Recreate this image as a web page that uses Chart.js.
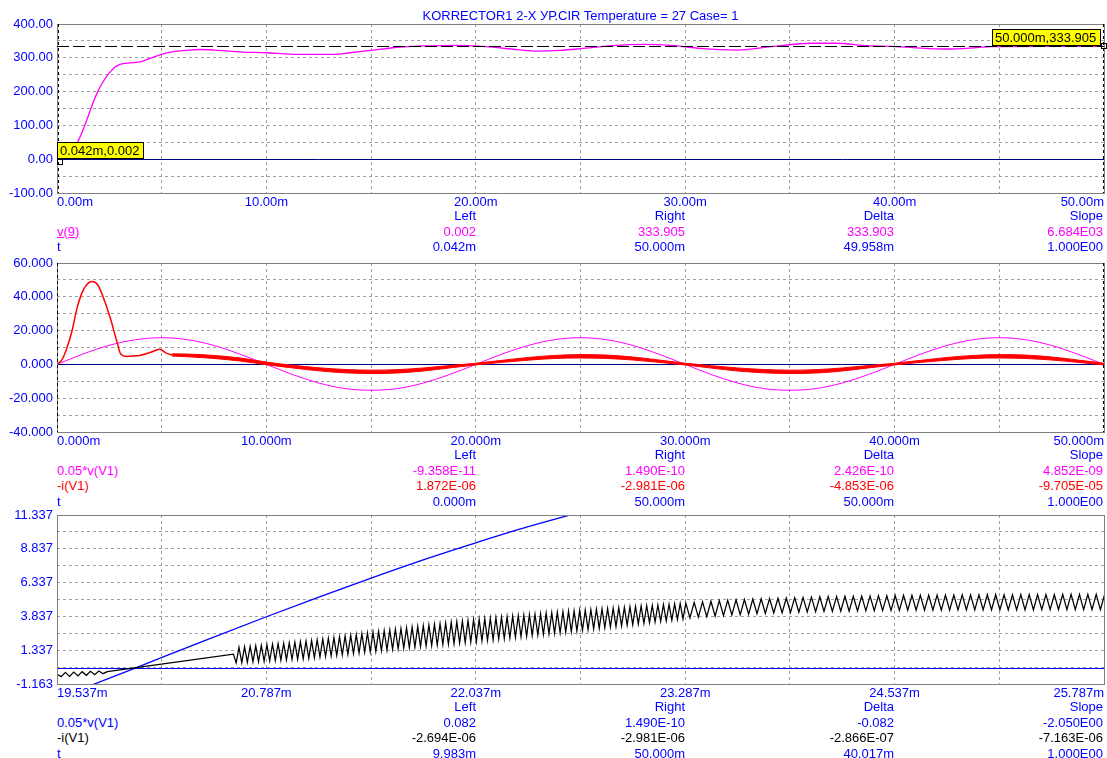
<!DOCTYPE html>
<html>
<head>
<meta charset="utf-8">
<script src="https://cdn.jsdelivr.net/npm/chart.js@4.4.0/dist/chart.umd.min.js"></script>
<style>
body { margin:0; background:#fff; width:1107px; height:758px; overflow:hidden; position:relative;
       font:13px "Liberation Sans", Arial, sans-serif; }
canvas { position:absolute; left:0; }
.t { position:absolute; white-space:nowrap; line-height:15px; height:15px; }
</style>
</head>
<body>
<canvas id="c1" width="1107" height="212" style="top:0"></canvas>
<canvas id="c2" width="1107" height="202" style="top:250px"></canvas>
<canvas id="c3" width="1107" height="202" style="top:502px"></canvas>
<div id="txt"></div>
<script>
// Micro-Cap style transient plots, 3 panels
var BLUE = '#0000ff', MAG = '#ff00ff', RED = '#ff0000', BLACK = '#000000';
var FONT = { family: '"Liberation Sans", Arial, sans-serif', size: 13 };

// ---- panel 1 : v(9)
var p1T = [0.042, 0.25, 0.5, 0.75, 0.95, 1.2, 1.42, 1.65, 1.9, 2.15, 2.38, 2.6, 2.77, 2.95, 3.15, 3.5, 3.96, 4.44, 5.0, 5.55,
           6.2, 6.8, 7.5, 8.1, 8.9, 10.0, 11.1, 12.2, 13.2, 14.0, 15.0, 16.4, 17.5, 19.0, 20.5, 22.0, 23.0, 24.0, 25.0, 26.5,
           28.0, 29.5, 30.7, 32.5, 34.1, 36.0, 37.2, 38.7, 40.1, 40.9, 42.5, 43.9, 44.6, 47.0, 50.0];
var p1V = [0.002, 3, 12, 28, 47, 80, 115, 155, 194, 224, 246, 262, 273, 279, 283, 285, 288, 298, 310, 318,
           322, 324.5, 323, 320.5, 317, 315, 311, 310, 310, 315, 322, 332, 335, 337, 333, 324, 320, 322, 327, 336,
           340, 336, 328, 323, 333, 343, 343, 336, 333, 330, 326, 330, 333, 333.9, 333.905];
var p1XTicks = [0, 5, 10, 15, 20, 25, 30, 35, 40, 45, 50];
var p1XLabels = ['0.00m', '', '10.00m', '', '20.00m', '', '30.00m', '', '40.00m', '', '50.00m'];
var p1YTicks = [-100, -50, 0, 50, 100, 150, 200, 250, 300, 350, 400];
var p1YLabels = ['-100.00', '', '0.00', '', '100.00', '', '200.00', '', '300.00', '', '400.00'];

// ---- panel 2 : 0.05*v(V1) and -i(V1)
var p2ST = [0, 1.25, 2.5, 3.75, 5, 6.25, 7.5, 8.75, 10, 11.25, 12.5, 13.75, 15, 16.25, 17.5, 18.75, 20, 21.25, 22.5, 23.75,
            25, 26.25, 27.5, 28.75, 30, 31.25, 32.5, 33.75, 35, 36.25, 37.5, 38.75, 40, 41.25, 42.5, 43.75, 45, 46.25, 47.5, 48.75, 50];
var p2S = [0, 6.2, 11.3, 14.6, 15.8, 14.6, 11.2, 6.0, 0, -6.0, -11.0, -14.3, -15.3, -14.3, -11.0, -6.0, 0, 6.1, 11.2, 14.6,
           15.8, 14.6, 11.2, 6.0, 0, -6.0, -11.0, -14.3, -15.3, -14.3, -11.0, -6.0, 0, 6.1, 11.2, 14.6, 15.8, 14.6, 11.2, 6.0, 0];
var p2RT = [0, 0.25, 0.48, 0.7, 0.95, 1.15, 1.35, 1.67, 1.95, 2.2, 2.53, 2.85, 3.05, 3.33, 3.7, 3.96, 4.44, 4.9, 5.25, 5.5];
var p2R = [0, 3, 10, 19, 33, 41, 46, 49, 47, 40, 28, 14, 6, 4.7, 5.0, 5.3, 7, 8.9, 6.5, 5.6];
var p2BT = [5.5, 6.25, 7.5, 8.75, 10, 11.25, 12.5, 13.75, 15, 16.25, 17.5, 18.75, 20, 21.25, 22.5, 23.75, 25, 26.25, 27.5, 28.75,
            30, 31.25, 32.5, 33.75, 35, 36.25, 37.5, 38.75, 40, 41.25, 42.5, 43.75, 45, 46.25, 47.5, 48.75, 50];
var p2BHi = [6.3, 6.1, 5.3, 3.8, 1.4, -0.5, -2.0, -3.0, -3.4, -3.1, -2.1, -0.7, 0.7, 2.4, 4.1, 5.3, 5.8, 5.5, 4.4, 2.6,
             0.7, -0.8, -2.1, -3.0, -3.4, -3.1, -2.1, -0.7, 0.7, 2.4, 4.1, 5.3, 5.8, 5.5, 4.4, 2.6, 0.7];
var p2BLo = [4.9, 4.5, 3.5, 2.0, -0.2, -2.1, -3.8, -5.0, -5.4, -5.1, -3.9, -2.1, -0.3, 1.2, 2.5, 3.5, 3.8, 3.5, 2.6, 1.2,
             -0.3, -2.2, -3.9, -5.0, -5.4, -5.1, -3.9, -2.1, -0.3, 1.2, 2.5, 3.5, 3.8, 3.5, 2.6, 1.2, -0.3];
var p2XTicks = [0, 5, 10, 15, 20, 25, 30, 35, 40, 45, 50];
var p2XLabels = ['0.000m', '', '10.000m', '', '20.000m', '', '30.000m', '', '40.000m', '', '50.000m'];
var p2YTicks = [-40, -30, -20, -10, 0, 10, 20, 30, 40, 50, 60];
var p2YLabels = ['-40.000', '', '-20.000', '', '0.000', '', '20.000', '', '40.000', '', '60.000'];

// ---- panel 3 : zoom 19.537m .. 25.787m
var p3BT = [19.45, 20.0, 20.4, 20.787, 21.1, 21.412, 21.75, 22.037, 22.35, 22.662, 23.0];
var p3B = [-2.67, 0, 1.95, 3.81, 5.27, 6.67, 8.13, 9.28, 10.47, 11.54, 12.58];
var p3HeadT = [19.537, 19.562, 19.587, 19.612, 19.637, 19.662, 19.687, 19.712, 19.737, 19.762, 19.787, 19.812, 19.837];
var p3Head = [-0.45, -0.62, -0.30, -0.60, -0.28, -0.56, -0.25, -0.52, -0.22, -0.47, -0.20, -0.40, -0.25];
// ripple, first part (dense) : samples from 20.59m every 0.01667m
var zigAT0 = 20.59, zigADt = 0.01667;
var p3ZigA = [1.05,
  0.40,1.55, 0.42,1.59, 0.45,1.63, 0.47,1.66, 0.50,1.70, 0.52,1.74, 0.55,1.78, 0.57,1.82, 0.60,1.85, 0.62,1.89,
  0.65,1.93, 0.67,1.96, 0.70,2.00, 0.74,2.05, 0.78,2.11, 0.83,2.16, 0.87,2.22, 0.91,2.27, 0.95,2.33, 1.00,2.39,
  1.04,2.44, 1.09,2.50, 1.13,2.56, 1.18,2.61, 1.22,2.67, 1.26,2.72, 1.31,2.78, 1.35,2.83, 1.40,2.89, 1.44,2.94,
  1.49,3.00, 1.53,3.05, 1.57,3.10, 1.60,3.15, 1.64,3.20, 1.68,3.25, 1.72,3.30, 1.76,3.35, 1.79,3.40, 1.83,3.45,
  1.87,3.49, 1.90,3.54, 1.94,3.59, 1.98,3.63, 2.03,3.67, 2.07,3.70, 2.11,3.74, 2.16,3.78, 2.20,3.82, 2.24,3.86,
  2.29,3.89, 2.33,3.93, 2.37,3.97, 2.42,4.00, 2.46,4.04, 2.50,4.08, 2.55,4.11, 2.59,4.15, 2.63,4.18, 2.68,4.22,
  2.72,4.25, 2.77,4.28, 2.81,4.31, 2.86,4.34, 2.91,4.37, 2.95,4.39, 3.00,4.42, 3.05,4.45, 3.09,4.48, 3.14,4.51,
  3.19,4.54, 3.23,4.57, 3.28,4.60, 3.33,4.63, 3.37,4.65, 3.42,4.68, 3.47,4.71, 3.51,4.73, 3.56,4.76, 3.61,4.79,
  3.65,4.82];
// ripple, second part : samples every 0.025m after the first part
var zigBDt = 0.025;
var p3ZigB = [
  3.73,4.88, 3.78,4.92, 3.82,4.96, 3.86,5.00, 3.90,5.03, 3.94,5.06, 3.97,5.09, 4.00,5.12, 4.03,5.14, 4.06,5.16,
  4.09,5.18, 4.11,5.20, 4.13,5.22, 4.15,5.24, 4.17,5.26, 4.19,5.28, 4.20,5.30, 4.21,5.31, 4.22,5.32, 4.23,5.33,
  4.24,5.34, 4.25,5.35, 4.26,5.36, 4.27,5.37, 4.28,5.38, 4.28,5.39, 4.29,5.40, 4.29,5.40, 4.30,5.41, 4.30,5.41,
  4.30,5.42, 4.30,5.42, 4.31,5.43, 4.31,5.43, 4.31,5.43, 4.31,5.44, 4.31,5.44, 4.32,5.44, 4.32,5.44, 4.32,5.45,
  4.32,5.45, 4.32,5.45, 4.33,5.45, 4.33,5.45, 4.33,5.46, 4.33,5.46, 4.33,5.46, 4.34,5.46, 4.34,5.46, 4.34,5.46];
var p3XTicks = [19.537, 20.162, 20.787, 21.412, 22.037, 22.662, 23.287, 23.912, 24.537, 25.162, 25.787];
var p3XLabels = ['19.537m', '', '20.787m', '', '22.037m', '', '23.287m', '', '24.537m', '', '25.787m'];
var p3YTicks = [-1.163, 0.087, 1.337, 2.587, 3.837, 5.087, 6.337, 7.587, 8.837, 10.087, 11.337];
var p3YLabels = ['-1.163', '', '1.337', '', '3.837', '', '6.337', '', '8.837', '', '11.337'];

function pts(xs, ys) { return ys.map(function(y, i) { return { x: xs[i], y: y }; }); }

var scopeDeco = {
    id: 'scopeDeco',
    beforeDatasetsDraw: function(chart, args, o) {
        var a = chart.chartArea, ctx = chart.ctx;
        var y = Math.round(chart.scales.y.getPixelForValue(0)) + 0.5;
        ctx.save();
        ctx.strokeStyle = o.zero; ctx.lineWidth = 1;
        ctx.beginPath(); ctx.moveTo(a.left, y); ctx.lineTo(a.right, y); ctx.stroke();
        ctx.restore();
    },
    afterDatasetsDraw: function(chart, args, o) {
        var a = chart.chartArea, ctx = chart.ctx, xs = chart.scales.x, ys = chart.scales.y;
        ctx.save();
        ctx.lineWidth = 1;
        ctx.strokeStyle = '#7f7f7f';
        ctx.strokeRect(Math.round(a.left) + 0.5, Math.round(a.top) + 0.5, Math.round(a.right - a.left), Math.round(a.bottom - a.top));
        ctx.strokeStyle = BLACK;
        (o.hLines || []).forEach(function(v) {
            var y = Math.round(ys.getPixelForValue(v)) + 0.5;
            ctx.setLineDash([12, 4]);
            ctx.beginPath(); ctx.moveTo(a.left, y); ctx.lineTo(a.right, y); ctx.stroke();
        });
        ctx.setLineDash([3, 3]);
        (o.vCursors || []).forEach(function(v) {
            var x = Math.round(xs.getPixelForValue(v)) + 0.5;
            x = Math.min(Math.max(x, a.left + 0.5), a.right - 0.5);
            ctx.beginPath(); ctx.moveTo(x, a.top); ctx.lineTo(x, a.bottom); ctx.stroke();
        });
        ctx.setLineDash([]);
        ctx.font = '13px "Liberation Sans", Arial, sans-serif';
        ctx.textBaseline = 'middle';
        (o.tags || []).forEach(function(t) {
            var px = Math.round(xs.getPixelForValue(t.x)), py = Math.round(ys.getPixelForValue(t.y));
            var w = Math.ceil(ctx.measureText(t.text).width) + 6, h = 16;
            var left = t.side === 'left' ? px - 4 - w : px - 1;
            var top = py - 1 - h;
            ctx.fillStyle = '#ffff00';
            ctx.fillRect(left, top, w, h);
            ctx.strokeStyle = BLACK;
            ctx.strokeRect(left + 0.5, top + 0.5, w, h);
            ctx.fillStyle = BLACK;
            ctx.textAlign = 'left';
            ctx.fillText(t.text, left + 3, top + h / 2 + 1);
            var sx = t.side === 'left' ? px - 3 : px - 1, sy = t.side === 'left' ? py - 3 : py;
            ctx.strokeRect(sx + 0.5, sy + 0.5, 5, 5);
        });
        ctx.restore();
    }
};

function axis(ticks, labels, min, max, size, isX) {
    return {
        type: 'linear', min: min, max: max,
        afterBuildTicks: function(s) { s.ticks = ticks.map(function(v) { return { value: v }; }); },
        afterFit: function(s) { if (isX) s.height = size; else s.width = size; },
        ticks: {
            autoSkip: false, maxRotation: 0, color: BLUE, font: FONT, padding: isX ? 2 : 4,
            align: isX ? 'inner' : 'center',
            callback: function(v, i) { return labels[i]; }
        },
        grid: { color: '#a0a0a0', lineWidth: 1, drawTicks: false },
        border: { display: false, dash: [3, 3] }
    };
}

function makeChart(id, padTop, xa, ya, datasets, deco) {
    return new Chart(document.getElementById(id), {
        type: 'line',
        data: { datasets: datasets },
        plugins: [scopeDeco],
        options: {
            responsive: false, animation: false, events: [],
            layout: { padding: { top: padTop, right: 3, left: 0, bottom: 0 } },
            elements: { point: { radius: 0 } },
            scales: { x: xa, y: ya },
            plugins: { legend: { display: false }, tooltip: { enabled: false }, scopeDeco: deco }
        }
    });
}

function line(data, color, width, extra) {
    var d = { data: data, borderColor: color, borderWidth: width, fill: false, cubicInterpolationMode: 'monotone' };
    for (var k in extra) d[k] = extra[k];
    return d;
}

makeChart('c1', 24,
    axis(p1XTicks, p1XLabels, 0, 50, 19, true),
    axis(p1YTicks, p1YLabels, -100, 400, 57, false),
    [line(pts(p1T, p1V), MAG, 1.3)],
    { zero: '#000080', hLines: [333.905], vCursors: [0.042, 50],
      tags: [{ x: 0.042, y: 0.002, text: '0.042m,0.002', side: 'right' },
             { x: 50, y: 333.905, text: '50.000m,333.905', side: 'left' }] });

makeChart('c2', 13,
    axis(p2XTicks, p2XLabels, 0, 50, 20, true),
    axis(p2YTicks, p2YLabels, -40, 60, 57, false),
    [line(pts(p2RT, p2R), RED, 1.5),
     line(pts(p2BT, p2BHi), RED, 1),
     line(pts(p2BT, p2BLo), RED, 1, { fill: '-1', backgroundColor: RED }),
     line(pts(p2ST, p2S), MAG, 1)],
    { zero: '#000080', vCursors: [0, 50] });

var zigBT0 = zigAT0 + (p3ZigA.length - 1) * zigADt;
var zig = pts(p3HeadT, p3Head)
    .concat(p3ZigA.map(function(v, i) { return { x: zigAT0 + i * zigADt, y: v }; }))
    .concat(p3ZigB.map(function(v, i) { return { x: zigBT0 + (i + 1) * zigBDt, y: v }; }));
makeChart('c3', 13,
    axis(p3XTicks, p3XLabels, 19.537, 25.787, 20, true),
    axis(p3YTicks, p3YLabels, -1.163, 11.337, 57, false),
    [line(zig, BLACK, 1.25, { cubicInterpolationMode: 'default', tension: 0 }),
     line(pts(p3BT, p3B), BLUE, 1.3)],
    { zero: BLUE });

// ---- title and cursor readouts
var cols = [476, 685, 894, 1103];
var txt = document.getElementById('txt');
function put(x, y, s, color, right, underline) {
    var d = document.createElement('div');
    d.className = 't';
    d.textContent = s;
    d.style.color = color;
    d.style.top = (y - 8) + 'px';
    if (right) d.style.right = (1107 - x) + 'px'; else d.style.left = x + 'px';
    if (underline) d.style.textDecoration = 'underline';
    txt.appendChild(d);
}
function readout(y, rows) {
    ['Left', 'Right', 'Delta', 'Slope'].forEach(function(h, i) { put(cols[i], y, h, BLUE, true); });
    rows.forEach(function(r, j) {
        var ry = y + 15.5 * (j + 1);
        put(57, ry, r[0], r[1], false, r[3]);
        r[2].forEach(function(v, i) { put(cols[i], ry, v, r[1], true); });
    });
}
var title = document.createElement('div');
title.className = 't';
title.style.cssText = 'left:0;width:1161px;text-align:center;top:8px;color:' + BLUE;
title.textContent = 'KORRECTOR1 2-X УР.CIR Temperature = 27 Case= 1';
txt.appendChild(title);

readout(216, [['v(9)', MAG, ['0.002', '333.905', '333.903', '6.684E03'], true],
              ['t', BLUE, ['0.042m', '50.000m', '49.958m', '1.000E00']]]);
readout(455, [['0.05*v(V1)', MAG, ['-9.358E-11', '1.490E-10', '2.426E-10', '4.852E-09']],
              ['-i(V1)', RED, ['1.872E-06', '-2.981E-06', '-4.853E-06', '-9.705E-05']],
              ['t', BLUE, ['0.000m', '50.000m', '50.000m', '1.000E00']]]);
readout(707, [['0.05*v(V1)', BLUE, ['0.082', '1.490E-10', '-0.082', '-2.050E00']],
              ['-i(V1)', BLACK, ['-2.694E-06', '-2.981E-06', '-2.866E-07', '-7.163E-06']],
              ['t', BLUE, ['9.983m', '50.000m', '40.017m', '1.000E00']]]);
</script>
</body>
</html>
